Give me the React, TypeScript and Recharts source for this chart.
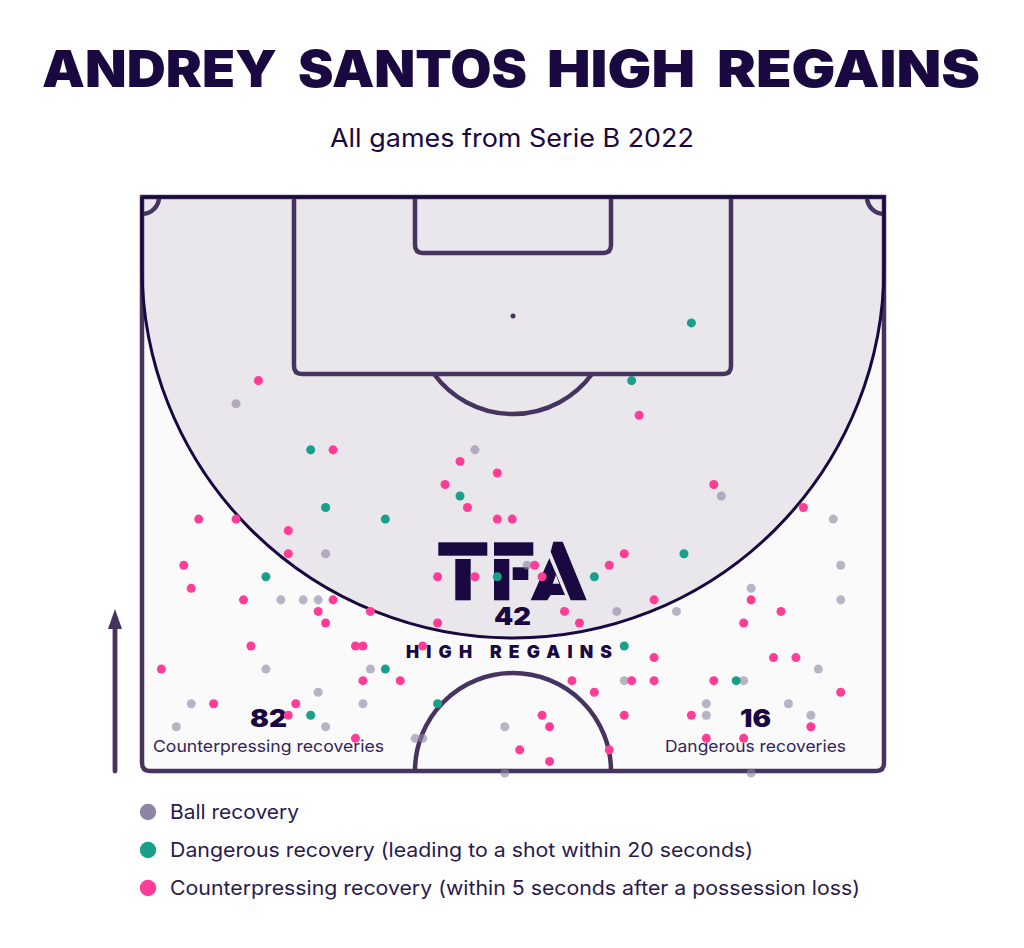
import React from "react";
import { ScatterChart, Scatter, XAxis, YAxis, ZAxis, Customized } from "recharts";

// positions on a 0-100 pitch grid: [width, length]
const ballRecoveries = [
  [13, 82], [45, 78], [25, 69], [19, 65], [22, 65], [24, 65], [17, 59], [31, 59], [24, 57], [7, 56], [30, 56],
  [5, 54], [25, 54], [37, 53], [52, 68], [64, 64], [65, 58], [49, 54], [38, 53], [49, 50], [78, 74], [93, 72],
  [94, 68], [82, 66], [94, 65], [72, 64], [91, 59], [81, 58], [76, 56], [87, 56], [76, 55], [90, 55], [82, 50],
];
const dangerousRecoveries = [
  [23, 78], [74, 89], [66, 84], [25, 73], [33, 72], [17, 67], [33, 59], [23, 55], [43, 74], [48, 67], [61, 67],
  [65, 61], [40, 56], [73, 69], [80, 58],
];
const counterpressingRecoveries = [
  [16, 84], [26, 78], [43, 77], [48, 76], [41, 75], [67, 81], [77, 75], [8, 72], [13, 72], [20, 71], [20, 69],
  [6, 68], [7, 66], [14, 65], [26, 65], [24, 64], [31, 64], [25, 63], [15, 61], [29, 61], [30, 61], [3, 59],
  [30, 58], [35, 58], [10, 56], [21, 56], [20, 55], [29, 53], [44, 73], [48, 72], [50, 72], [65, 69], [63, 68],
  [53, 68], [40, 67], [45, 67], [54, 67], [69, 65], [57, 64], [40, 63], [59, 63], [38, 61], [69, 60], [58, 58],
  [66, 58], [69, 58], [61, 57], [54, 55], [65, 55], [55, 54], [51, 52], [63, 52], [55, 51], [89, 73], [82, 65],
  [86, 64], [81, 63], [85, 60], [88, 60], [77, 58], [94, 57], [74, 55], [90, 54], [76, 53], [81, 53],
];

const toPoints = (list: number[][]) => list.map(([x, y]) => ({ x, y }));

const INK = "#1a0840";
const LINE = "#47335f";
const SANS = "Inter, 'Noto Sans', sans-serif";

const titleWords = [
  { word: "ANDREY", x: 42, width: 235 },
  { word: "SANTOS", x: 298, width: 229 },
  { word: "HIGH", x: 547, width: 148 },
  { word: "REGAINS", x: 717, width: 263 },
];

const legendRows = [
  { label: "Ball recovery", color: "#8d84a4", cy: 812, width: 129 },
  { label: "Dangerous recovery (leading to a shot within 20 seconds)", color: "#1a9f8b", cy: 850, width: 583 },
  { label: "Counterpressing recovery (within 5 seconds after a possession loss)", color: "#ff3d96", cy: 888, width: 690 },
];

function Pitch() {
  return (
    <g>
      <text y={87} fontFamily={SANS} fontWeight={900} fontSize={51} fill={INK}>
        {titleWords.map((t) => (
          <React.Fragment key={t.word}>
            <tspan x={t.x} textLength={t.width} lengthAdjust="spacingAndGlyphs">
              {t.word}
            </tspan>{" "}
          </React.Fragment>
        ))}
      </text>
      <text x={330} y={147} fontFamily={SANS} fontSize={25} fill={INK} textLength={364} lengthAdjust="spacingAndGlyphs">
        All games from Serie B 2022
      </text>

      {/* pitch */}
      <path d="M142,197 H884 V763 Q884,771 876,771 H150 Q142,771 142,763 Z" fill="#fafafa" />
      <path d="M142,197 V267 A371,371 0 0 0 884,267 V197 Z" fill="#e9e6ec" />
      <g fill="none" stroke={LINE} strokeWidth={4.5}>
        <path d="M294,197 V366 Q294,374 302,374 H723 Q731,374 731,366 V197" />
        <path d="M415,197 V245 Q415,253 423,253 H603 Q611,253 611,245 V197" />
        <path d="M434,374 A98,98 0 0 0 592,374" />
        <path d="M415,771 A98,98 0 0 1 611,771" />
        <path d="M142,214 A17,17 0 0 0 159,197" />
        <path d="M884,214 A17,17 0 0 1 867,197" />
        <path d="M142,197 H884 V763 Q884,771 876,771 H150 Q142,771 142,763 Z" />
      </g>
      <path d="M142,197 V267 A371,371 0 0 0 884,267 V197 H142" fill="none" stroke={INK} strokeWidth={3} />
      <circle cx={513} cy={316} r={2.5} fill={LINE} />

      {/* logo */}
      <g fill={INK}>
        <rect x={438.3} y={542.3} width={49} height={13.4} />
        <rect x={455.3} y={559} width={15.4} height={41.3} />
        <rect x={494} y={542.3} width={39.3} height={13.4} />
        <rect x={494} y={559} width={15.3} height={41.3} />
        <rect x={512.7} y={567.3} width={15.6} height={12.7} />
        <path d="M553.3,541.7 H562.7 L586.7,600.3 H570.7 L550.7,551.7 Z" />
        <path
          fillRule="evenodd"
          d="M549.3,558.3 L565,595 H550.7 L547.3,600.3 H530.7 Z M552.7,583.7 H559.3 L556,575 Z"
        />
      </g>

      <text x={494} y={624.5} fontFamily={SANS} fontWeight={900} fontSize={24} fill={INK} textLength={37} lengthAdjust="spacingAndGlyphs">42</text>
      <text x={406} y={658} fontFamily={SANS} fontWeight={900} fontSize={17.5} fill={INK} textLength={206}>
        HIGH REGAINS
      </text>
      <text x={250} y={727} fontFamily={SANS} fontWeight={900} fontSize={24} fill={INK} textLength={37} lengthAdjust="spacingAndGlyphs">82</text>
      <text x={740} y={727} fontFamily={SANS} fontWeight={900} fontSize={24} fill={INK} textLength={31} lengthAdjust="spacingAndGlyphs">16</text>
      <text x={153} y={752} fontFamily={SANS} fontSize={16.5} fill="#33235a" textLength={231} lengthAdjust="spacingAndGlyphs">
        Counterpressing recoveries
      </text>
      <text x={665} y={752} fontFamily={SANS} fontSize={16.5} fill="#33235a" textLength={181} lengthAdjust="spacingAndGlyphs">
        Dangerous recoveries
      </text>

      {/* attacking direction */}
      <path d="M115,771 V628" stroke={LINE} strokeWidth={4.8} strokeLinecap="round" />
      <path d="M115,609 L122,629 H108 Z" fill={LINE} />

      {legendRows.map((row) => (
        <g key={row.label}>
          <circle cx={148} cy={row.cy} r={8.2} fill={row.color} />
          <text x={170} y={row.cy + 6.5} fontFamily={SANS} fontSize={20} fill="#2a1a4e" textLength={row.width} lengthAdjust="spacingAndGlyphs">
            {row.label}
          </text>
        </g>
      ))}
    </g>
  );
}

export default function App() {
  return (
    <div style={{ position: "absolute", left: 0, top: 0, width: 1024, height: 948, background: "#fff" }}>
      <ScatterChart width={1024} height={948} margin={{ top: 196, right: 138.5, bottom: 163.5, left: 139 }}>
        <XAxis type="number" dataKey="x" domain={[0, 100]} hide />
        <YAxis type="number" dataKey="y" domain={[49, 100]} hide />
        <ZAxis range={[60, 60]} />
        <Customized component={Pitch} />
        <Scatter name="Ball recovery" data={toPoints(ballRecoveries)} fill="#8d84a4" fillOpacity={0.6} isAnimationActive={false} />
        <Scatter name="Dangerous recovery" data={toPoints(dangerousRecoveries)} fill="#1a9f8b" isAnimationActive={false} />
        <Scatter name="Counterpressing recovery" data={toPoints(counterpressingRecoveries)} fill="#ff3d96" isAnimationActive={false} />
      </ScatterChart>
    </div>
  );
}
